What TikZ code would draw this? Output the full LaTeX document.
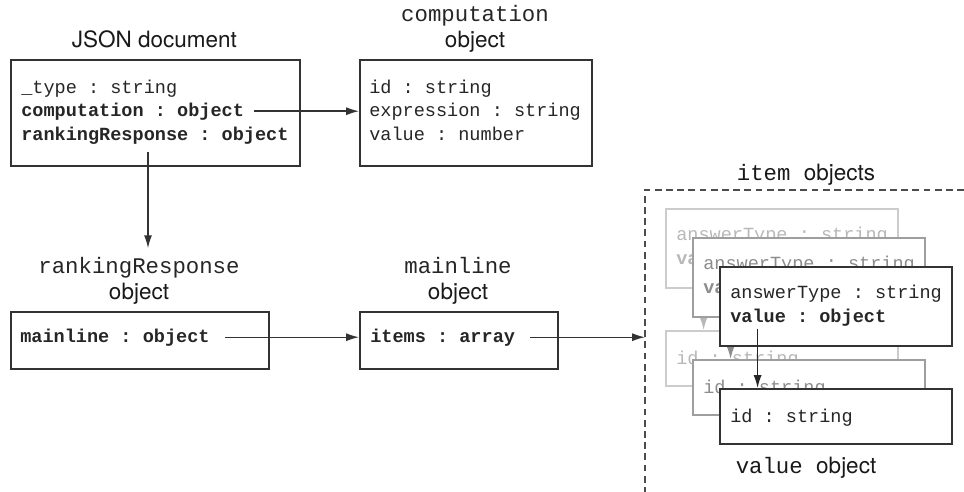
\documentclass[tikz,border=0pt]{standalone}
\usepackage{fontspec}
\setmainfont{TeX Gyre Heros}
\setsansfont{TeX Gyre Heros}
\setmonofont{Liberation Mono}
\usetikzlibrary{arrows.meta,calc,positioning}
\newcommand{\fieldfont}{\fontsize{13.2}{16}\selectfont\ttfamily}
\newcommand{\fieldbold}{\fontsize{13.2}{16}\selectfont\ttfamily\bfseries}
\newcommand{\titlemono}{\fontsize{15.9}{19}\selectfont\ttfamily}
\newcommand{\titlesans}{\fontsize{16}{19}\selectfont\sffamily}
\tikzset{
  objbox/.style    = {draw=black!80, line width=1.1pt, fill=white, inner sep=0pt,
                      anchor=north west},
  fieldtxt/.style  = {font=\fieldfont, text=black!85, inner sep=0pt, anchor=base west},
  keytxt/.style    = {fieldtxt, font=\fieldbold},
  monotitle/.style = {font=\titlemono, text=black!85, inner sep=0pt, anchor=base},
  sanstitle/.style = {font=\titlesans, text=black!90, inner sep=0pt, anchor=base},
  link/.style      = {-{Latex[length=3.2mm,width=2mm]}, line width=1pt, black!80},
  groupline/.style = {line width=1pt, black!70, dash pattern=on 1.7mm off 1.1mm},
}
% one layer of the item stack: item box, its value box and the arrow between
\newcommand{\itemlevel}[4]{%
  \node[objbox, draw=#3, minimum width=5.8cm, minimum height=1.975cm] (#1item) at #2 {};
  \node[fieldtxt, text=#4] (#1type) at ([shift={(0.275,-0.8)}]#1item.north west) {answerType : string};
  \node[keytxt, text=#4] (#1val) at ([shift={(0.275,-1.4)}]#1item.north west) {value : object};
  \node[objbox, draw=#3, minimum width=5.8cm, minimum height=1.375cm] (#1value)
    at ([yshift=-3.05cm]#1item.north west) {};
  \node[fieldtxt, text=#4] (#1id) at ([shift={(0.275,-0.85)}]#1value.north west) {id : string};
  \coordinate (#1from) at ([shift={(0.69,-0.175)}]#1val.base west);
  \draw[link, #4] (#1from) -- (#1from |- #1value.north);
}

\begin{document}
\begin{tikzpicture}
  \useasboundingbox (0,0) rectangle (24.1,-12.3);

  % JSON document
  \node[sanstitle] (jsontitle) at (3.86,-1.2) {JSON document};
  \node[objbox, minimum width=7.225cm, minimum height=2.65cm] (jsonbox) at (0.25,-1.475) {};
  \node[fieldtxt] (ftype) at ([shift={(0.275,-0.85)}]jsonbox.north west) {\_type : string};
  \node[keytxt] (fcomp) at ([shift={(0.275,-1.425)}]jsonbox.north west) {computation : object};
  \node[keytxt] (frank) at ([shift={(0.275,-2.025)}]jsonbox.north west) {rankingResponse : object};

  % computation object
  \node[monotitle] (comptitle) at (11.875,-0.55) {computation};
  \node[sanstitle] (compobj) at (11.875,-1.2) {object};
  \node[objbox, minimum width=5.8cm, minimum height=2.65cm] (compbox) at (8.975,-1.475) {};
  \node[fieldtxt] (fid) at ([shift={(0.25,-0.85)}]compbox.north west) {id : string};
  \node[fieldtxt] (fexpr) at ([shift={(0.25,-1.425)}]compbox.north west) {expression : string};
  \node[fieldtxt] (fnum) at ([shift={(0.25,-2.025)}]compbox.north west) {value : number};

  % rankingResponse object
  \node[monotitle] (rrtitle) at (3.475,-6.825) {rankingResponse};
  \node[sanstitle] (rrobj) at (3.475,-7.49) {object};
  \node[objbox, minimum width=6.45cm, minimum height=1.425cm] (rrbox) at (0.25,-7.775) {};
  \node[keytxt] (fmain) at ([shift={(0.25,-0.775)}]rrbox.north west) {mainline : object};

  % mainline object
  \node[monotitle] (mltitle) at (11.45,-6.825) {mainline};
  \node[sanstitle] (mlobj) at (11.45,-7.49) {object};
  \node[objbox, minimum width=4.95cm, minimum height=1.425cm] (mlbox) at (8.975,-7.775) {};
  \node[keytxt] (fitems) at ([shift={(0.275,-0.775)}]mlbox.north west) {items : array};

  % item objects
  \coordinate (gtop) at (16.125,-4.75);
  \coordinate (gbot) at (16.125,-12.3);
  \coordinate (gright) at (24.1,-4.75);
  \draw[groupline] (gright) -- (gtop) -- (gbot);
  \node[sanstitle] (itemtitle) at (20.15,-4.5) {{\titlemono item }objects};
  \itemlevel{b}{(16.625,-5.2)}{black!20}{black!28}
  \itemlevel{m}{(17.3,-5.925)}{black!38}{black!45}
  \itemlevel{f}{(17.975,-6.65)}{black!80}{black!85}
  \node[sanstitle] (valtitle) at (20.15,-11.825) {{\titlemono value }object};

  \coordinate (jsonout) at (3.7,-3.8);
  \draw[link] ([xshift=0.25cm]fcomp.east) -- (fcomp -| compbox.west);
  \draw[link] (jsonout) -- ([yshift=0.21cm]jsonout |- rrtitle.north);
  \draw[link] ([xshift=0.375cm]fmain.east) -- (fmain -| mlbox.west);
  \draw[link] ([xshift=0.375cm]fitems.east) -- (fitems -| gtop);
\end{tikzpicture}
\end{document}
